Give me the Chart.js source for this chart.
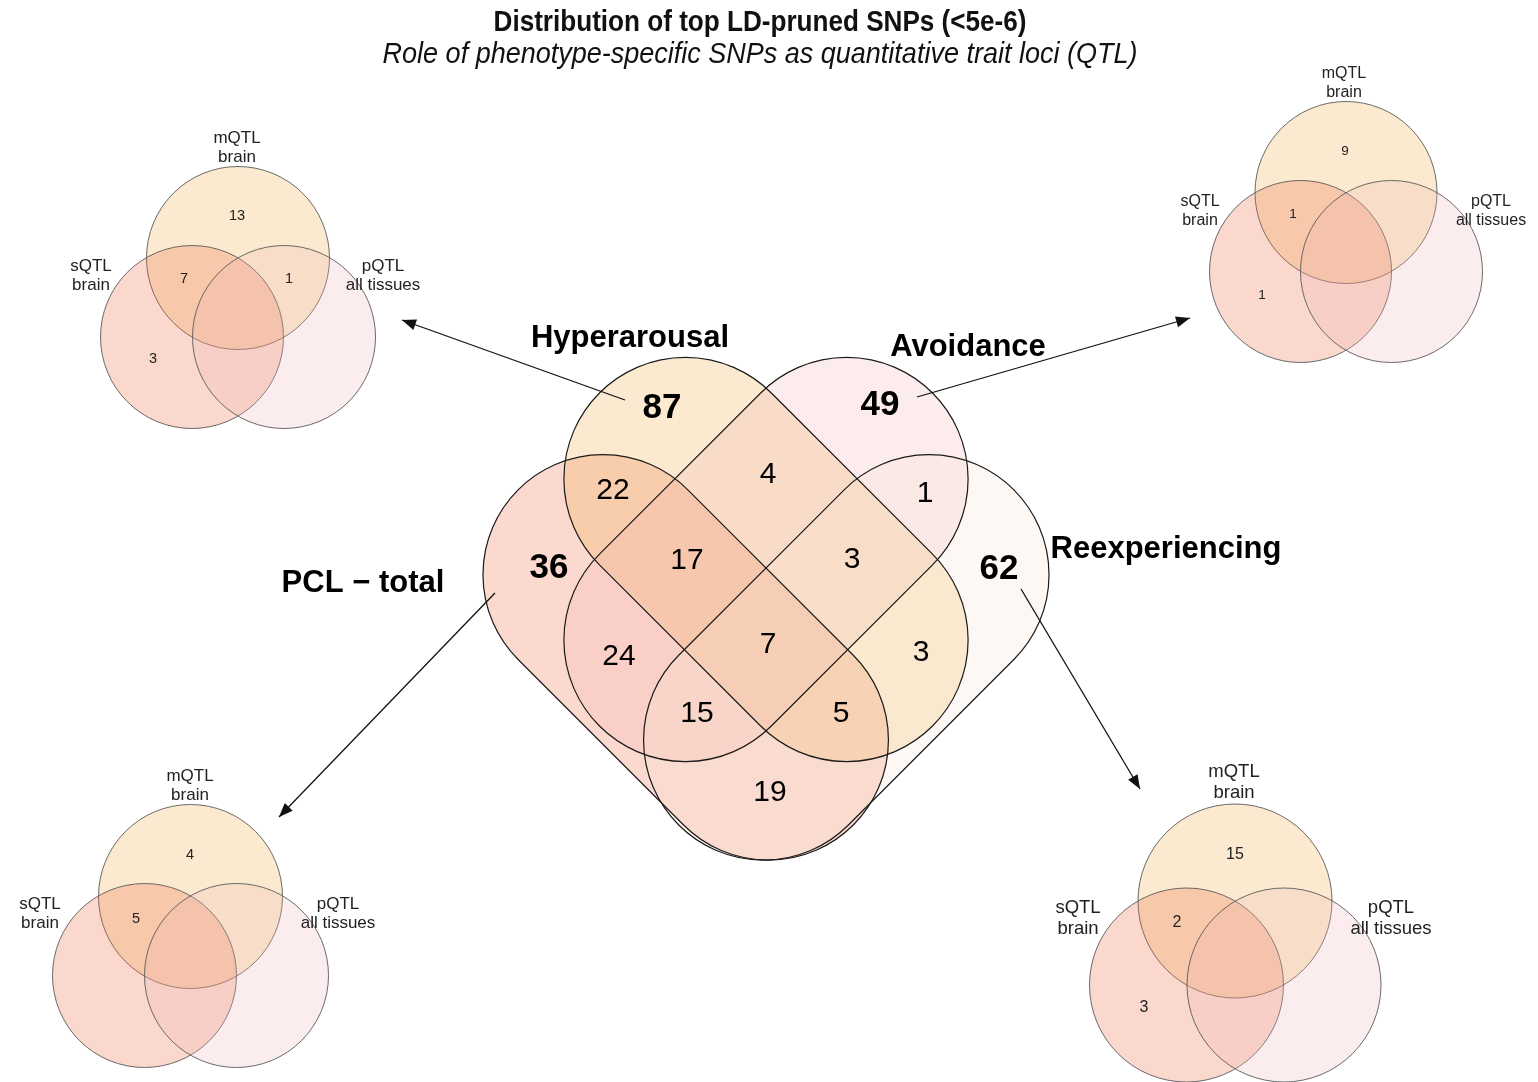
<!DOCTYPE html>
<html>
<head>
<meta charset="utf-8">
<script src="https://cdn.jsdelivr.net/npm/chart.js@4.4.0/dist/chart.umd.min.js"></script>
<style>
  html, body { margin: 0; padding: 0; background: #fff; }
  #wrap { width: 1538px; height: 1082px; }
</style>
</head>
<body>
<div id="wrap"><canvas id="venn"></canvas></div>
<script>
// ---- data ----
const mainSets = ['PCL \u2212 total', 'Hyperarousal', 'Avoidance', 'Reexperiencing'];
const mainRegions = ['P', 'H', 'A', 'R', 'PH', 'HA', 'AR', 'PR', 'PHA', 'HAR', 'PHAR', 'PA', 'HR', 'PAR', 'PHR'];
const mainCounts = [36, 87, 49, 62, 22, 4, 1, 19, 17, 3, 7, 24, 3, 15, 5];

const qtlSets = [['mQTL', 'brain'], ['sQTL', 'brain'], ['pQTL', 'all tissues']];
const qtlRegions = ['m', 's', 'p', 'ms', 'mp', 'sp', 'msp'];
const qtlPCL = [4, null, null, 5, null, null, null];
const qtlHyper = [13, 3, null, 7, 1, null, null];
const qtlAvoid = [9, 1, null, 1, null, null, null];
const qtlReexp = [15, 3, null, 2, null, null, null];

const titleText = 'Distribution of top LD-pruned SNPs (<5e-6)';
const subtitleText = 'Role of phenotype-specific SNPs as quantitative trait loci (QTL)';

// ---- layout (page units, the scales run 0..1538 and 0..1082) ----
const axisX = 766;
// four-set venn: rounded (stadium) shapes; the right two mirror the left two
const pclShape = {cx: 685.7, cy: 657.4, half: 117, r: 120, angle: 45};
const hypShape = {cx: 766, cy: 559.5, half: 114, r: 121.5, angle: 45};
const mirror = e => ({cx: 2*axisX - e.cx, cy: e.cy, half: e.half, r: e.r, angle: -e.angle});
const mainShapes = [pclShape, hypShape, mirror(hypShape), mirror(pclShape)];
const mainFill = ['rgba(239,103,63,0.25)', 'rgba(239,171,67,0.25)', 'rgba(243,179,179,0.25)', 'rgba(247,227,207,0.25)'];

const mainCountPos = [[549,568],[662,408],[880,405],[999,569],[613,491],[768,475],[925,494],[770,793],
                      [687,561],[852,560],[768,645],[619,657],[921,653],[697,714],[841,714]];
const mainLabelPos = [[363,592],[630,347],[968,356],[1166,558]];

// small venns, in the order PCL, Hyper, Avoid, Reexp
const qtlCircles = [
    {c: [[190.5,896.5],[144.5,975.5],[236.5,975.5]], r: 92},
    {c: [[238,258],[192,337],[284,337]], r: 91.5},
    {c: [[1346,192.5],[1300.5,271.5],[1391.5,271.5]], r: 91},
    {c: [[1235,901],[1186.5,985],[1284,985]], r: 97}
];
const qtlLabelPos = [
    [[190,776],[40,904],[338,904]],
    [[237,138],[91,266],[383,266]],
    [[1344,74],[1200,202],[1491,202]],
    [[1234,772],[1078,908],[1391,908]]
];
const qtlCountPos = [
    {m: [190,855], ms: [136,919]},
    {m: [237,216], s: [153,359], ms: [184,279], mp: [289,279]},
    {m: [1345,151], s: [1262,295], ms: [1293,214]},
    {m: [1235,855], s: [1144,1008], ms: [1177,923]}
];
const qtlFont = [17, 17, 16, 18.5];
const qtlFill = ['rgba(239,171,63,0.25)', 'rgba(235,99,55,0.25)', 'rgba(239,183,183,0.25)'];

// arrows from each main set to its QTL venn
const arrows = [
    [[495,593],[279,817]],
    [[625,400],[402,320]],
    [[917,397],[1190,318]],
    [[1021,589],[1140,789]]
];

const qtlCounts = [qtlPCL, qtlHyper, qtlAvoid, qtlReexp];

// ---- datasets ----
const datasets = [];
qtlCircles.forEach(v => {
    datasets.push({
        type: 'bubble',
        data: v.c.map(p => ({x: p[0], y: p[1], r: v.r})),
        backgroundColor: qtlFill,
        borderColor: '#5a5a5a',
        borderWidth: 0.9,
        hoverRadius: 0,
        clip: false
    });
});
arrows.forEach(a => {
    datasets.push({
        type: 'line',
        data: a.map(p => ({x: p[0], y: p[1]})),
        borderColor: '#111',
        borderWidth: 1.3,
        pointRadius: 0,
        fill: false,
        tension: 0,
        clip: false
    });
});

function txt(ctx, s, x, y, font, color, baseline, squeeze) {
    ctx.save();
    ctx.font = font;
    ctx.fillStyle = color || '#111';
    ctx.textAlign = 'center';
    ctx.textBaseline = baseline || 'middle';
    ctx.translate(x, y);
    if (squeeze) ctx.scale(squeeze, 1);
    ctx.fillText(s, 0, 0);
    ctx.restore();
}

const vennPlugin = {
    id: 'venn',
    beforeDatasetsDraw(chart) {
        const {ctx, scales: {x, y}} = chart;
        const k = x.getPixelForValue(1) - x.getPixelForValue(0);
        const path = e => {
            const h = e.half * k, r = e.r * k;
            ctx.save();
            ctx.translate(x.getPixelForValue(e.cx), y.getPixelForValue(e.cy));
            ctx.rotate(e.angle * Math.PI / 180);
            ctx.beginPath();
            ctx.moveTo(-h, -r);
            ctx.lineTo(h, -r);
            ctx.arc(h, 0, r, -Math.PI / 2, Math.PI / 2);
            ctx.lineTo(-h, r);
            ctx.arc(-h, 0, r, Math.PI / 2, Math.PI * 1.5);
            ctx.closePath();
            ctx.restore();
        };
        ctx.save();
        mainShapes.forEach((e, i) => { path(e); ctx.fillStyle = mainFill[i]; ctx.fill(); });
        ctx.strokeStyle = '#1a1a1a';
        ctx.lineWidth = 1.2;
        mainShapes.forEach(e => { path(e); ctx.stroke(); });
        ctx.restore();
    },
    afterDatasetsDraw(chart) {
        const {ctx, scales: {x, y}} = chart;
        const X = v => x.getPixelForValue(v), Y = v => y.getPixelForValue(v);
        ctx.save();
        // arrow heads
        chart.data.datasets.forEach((ds, i) => {
            if (ds.type !== 'line') return;
            const pts = chart.getDatasetMeta(i).data;
            const p0 = pts[0], p1 = pts[1];
            const ang = Math.atan2(p1.y - p0.y, p1.x - p0.x);
            const len = 14, half = 5.5;
            ctx.beginPath();
            ctx.moveTo(p1.x, p1.y);
            ctx.lineTo(p1.x - len*Math.cos(ang) + half*Math.sin(ang), p1.y - len*Math.sin(ang) - half*Math.cos(ang));
            ctx.lineTo(p1.x - len*Math.cos(ang) - half*Math.sin(ang), p1.y - len*Math.sin(ang) + half*Math.cos(ang));
            ctx.closePath();
            ctx.fillStyle = '#111';
            ctx.fill();
        });
        // titles (narrow lettering)
        txt(ctx, titleText, X(760), Y(31), 'bold 29px "Liberation Sans", Arial, sans-serif', '#111', 'alphabetic', 0.9);
        txt(ctx, subtitleText, X(760), Y(63), 'italic 30px "Liberation Sans", Arial, sans-serif', '#111', 'alphabetic', 0.9);
        // main set names
        mainSets.forEach((s, i) => {
            txt(ctx, s, X(mainLabelPos[i][0]), Y(mainLabelPos[i][1]), 'bold 31px "Liberation Sans", Arial, sans-serif', '#000', 'alphabetic');
        });
        // main counts
        mainCounts.forEach((n, i) => {
            const single = mainRegions[i].length === 1;
            const font = single ? 'bold 35px "Liberation Sans", Arial, sans-serif' : '30px "Liberation Sans", Arial, sans-serif';
            txt(ctx, String(n), X(mainCountPos[i][0]), Y(mainCountPos[i][1]), font, '#000');
        });
        // small venns text
        qtlCounts.forEach((counts, v) => {
            const fs = qtlFont[v];
            qtlSets.forEach((lines, k) => {
                const p = qtlLabelPos[v][k];
                lines.forEach((ln, j) => {
                    txt(ctx, ln, X(p[0]), Y(p[1] + j * fs * 1.15), fs + 'px "Liberation Sans", Arial, sans-serif', '#222');
                });
            });
            counts.forEach((n, k) => {
                if (n === null) return;
                const p = qtlCountPos[v][qtlRegions[k]];
                txt(ctx, String(n), X(p[0]), Y(p[1]), (fs - 2.5) + 'px "Liberation Sans", Arial, sans-serif', '#222');
            });
        });
        ctx.restore();
    }
};

new Chart(document.getElementById('venn'), {
    type: 'bubble',
    data: { datasets: datasets },
    options: {
        responsive: true,
        maintainAspectRatio: false,
        animation: false,
        layout: { padding: 0, autoPadding: false },
        plugins: { legend: { display: false }, tooltip: { enabled: false } },
        scales: {
            x: { type: 'linear', min: 0, max: 1538, display: false },
            y: { type: 'linear', min: 0, max: 1082, reverse: true, display: false }
        }
    },
    plugins: [vennPlugin]
});
</script>
</body>
</html>
